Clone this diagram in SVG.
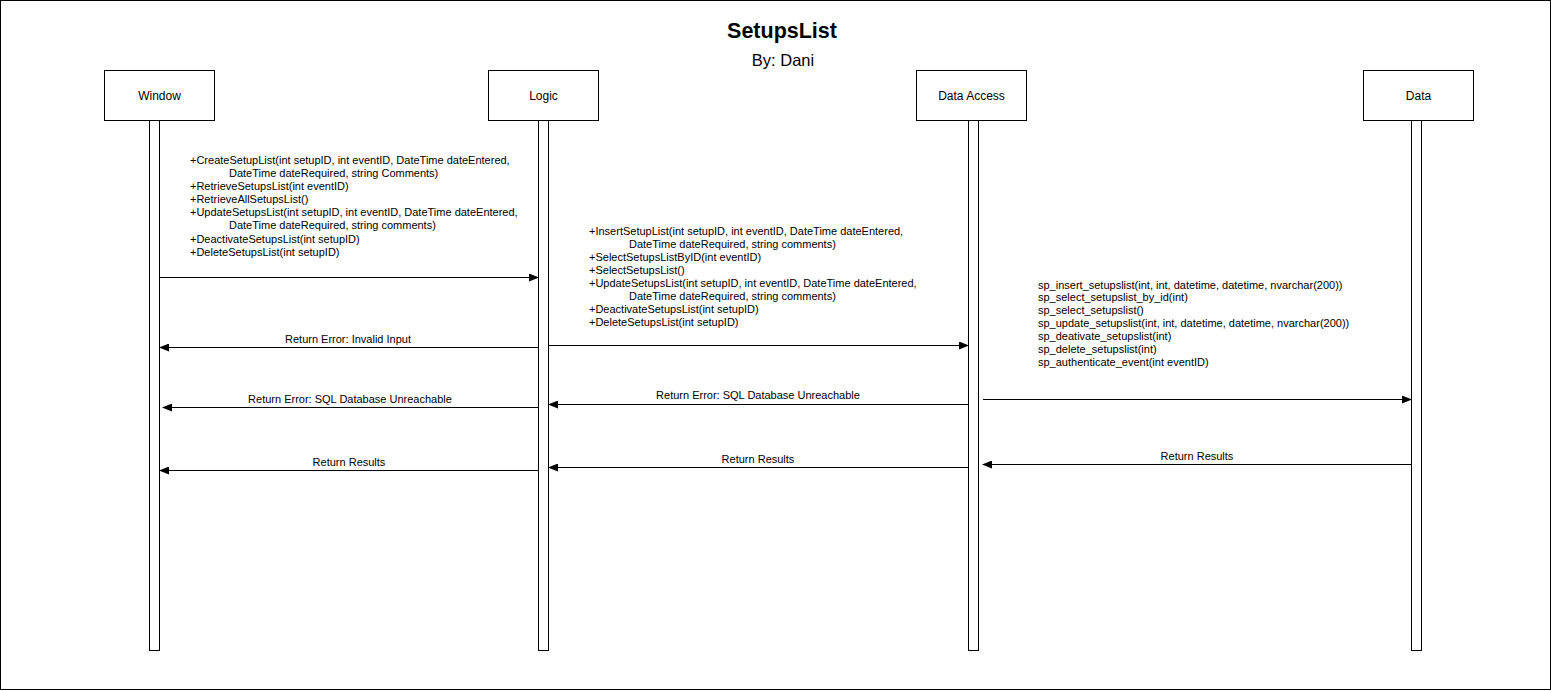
<svg xmlns="http://www.w3.org/2000/svg" width="1551" height="691" viewBox="0 0 1551 691">
<defs>
<marker id="ah" markerWidth="10" markerHeight="8" refX="9" refY="4" orient="auto" markerUnits="userSpaceOnUse">
<path d="M0,0 L10,4 L0,8 Z" fill="#000"/>
</marker>
</defs>
<style>
text{font-family:"Liberation Sans",Arial,sans-serif;fill:#000}
.box{fill:#fff;stroke:#000;stroke-width:1}
.bar{fill:#fff;stroke:#000;stroke-width:1}
.lbl{font-size:12px;text-anchor:middle}
.m{font-size:11px}
.msg{stroke:#000;stroke-width:1;fill:none;marker-end:url(#ah)}
</style>
<rect x="0.5" y="0.5" width="1550" height="689" fill="#fff" stroke="#000" stroke-width="1"/>
<text x="782" y="38" font-size="21.5" font-weight="bold" text-anchor="middle">SetupsList</text>
<text x="783" y="66" font-size="16.5" text-anchor="middle">By: Dani</text>

<g id="window">
<rect class="box" x="104.5" y="70.5" width="110" height="50"/>
<text class="lbl" x="159.5" y="100">Window</text>
<rect class="bar" x="149.5" y="120.5" width="10" height="530"/>
</g>
<g id="logic">
<rect class="box" x="488.5" y="70.5" width="110" height="50"/>
<text class="lbl" x="543.5" y="100">Logic</text>
<rect class="bar" x="538.5" y="120.5" width="10" height="530"/>
</g>
<g id="data-access">
<rect class="box" x="916.5" y="70.5" width="110" height="50"/>
<text class="lbl" x="971.5" y="100">Data Access</text>
<rect class="bar" x="968.5" y="120.5" width="10" height="530"/>
</g>
<g id="data">
<rect class="box" x="1363.5" y="70.5" width="110" height="50"/>
<text class="lbl" x="1418.5" y="100">Data</text>
<rect class="bar" x="1411.5" y="120.5" width="10" height="530"/>
</g>

<g id="connectors">
<line class="msg" x1="160" y1="277.5" x2="538" y2="277.5"/>
<line class="msg" x1="538" y1="347.5" x2="160" y2="347.5"/>
<line class="msg" x1="549" y1="345.5" x2="968" y2="345.5"/>
<line class="msg" x1="538" y1="407.5" x2="163" y2="407.5"/>
<line class="msg" x1="968" y1="404.5" x2="549" y2="404.5"/>
<line class="msg" x1="983" y1="399.5" x2="1411" y2="399.5"/>
<line class="msg" x1="538" y1="470.5" x2="160" y2="470.5"/>
<line class="msg" x1="968" y1="467.5" x2="549" y2="467.5"/>
<line class="msg" x1="1411" y1="464.5" x2="983" y2="464.5"/>
<g font-size="11" text-anchor="middle">
<text x="348" y="343">Return Error: Invalid Input</text>
<text x="350" y="403">Return Error: SQL Database Unreachable</text>
<text x="758" y="399">Return Error: SQL Database Unreachable</text>
<text x="349" y="466">Return Results</text>
<text x="758" y="463">Return Results</text>
<text x="1197" y="460">Return Results</text>
</g>
</g>

<g id="window-methods">
<text class="m" x="190" y="164">+CreateSetupList(int setupID, int eventID, DateTime dateEntered,</text>
<text class="m" x="229" y="177">DateTime dateRequired, string Comments)</text>
<text class="m" x="190" y="190">+RetrieveSetupsList(int eventID)</text>
<text class="m" x="190" y="203">+RetrieveAllSetupsList()</text>
<text class="m" x="190" y="216">+UpdateSetupsList(int setupID, int eventID, DateTime dateEntered,</text>
<text class="m" x="229" y="229">DateTime dateRequired, string comments)</text>
<text class="m" x="190" y="243">+DeactivateSetupsList(int setupID)</text>
<text class="m" x="190" y="256">+DeleteSetupsList(int setupID)</text>
</g>
<g id="logic-methods">
<text class="m" x="589" y="235">+InsertSetupList(int setupID, int eventID, DateTime dateEntered,</text>
<text class="m" x="629" y="248">DateTime dateRequired, string comments)</text>
<text class="m" x="589" y="261">+SelectSetupsListByID(int eventID)</text>
<text class="m" x="589" y="274">+SelectSetupsList()</text>
<text class="m" x="589" y="287">+UpdateSetupsList(int setupID, int eventID, DateTime dateEntered,</text>
<text class="m" x="629" y="300">DateTime dateRequired, string comments)</text>
<text class="m" x="589" y="313">+DeactivateSetupsList(int setupID)</text>
<text class="m" x="589" y="326">+DeleteSetupsList(int setupID)</text>
</g>
<g id="data-access-procs">
<text class="m" x="1038" y="289">sp_insert_setupslist(int, int, datetime, datetime, nvarchar(200))</text>
<text class="m" x="1038" y="301">sp_select_setupslist_by_id(int)</text>
<text class="m" x="1038" y="314">sp_select_setupslist()</text>
<text class="m" x="1038" y="327">sp_update_setupslist(int, int, datetime, datetime, nvarchar(200))</text>
<text class="m" x="1038" y="340">sp_deativate_setupslist(int)</text>
<text class="m" x="1038" y="353">sp_delete_setupslist(int)</text>
<text class="m" x="1038" y="366">sp_authenticate_event(int eventID)</text>
</g>
</svg>
